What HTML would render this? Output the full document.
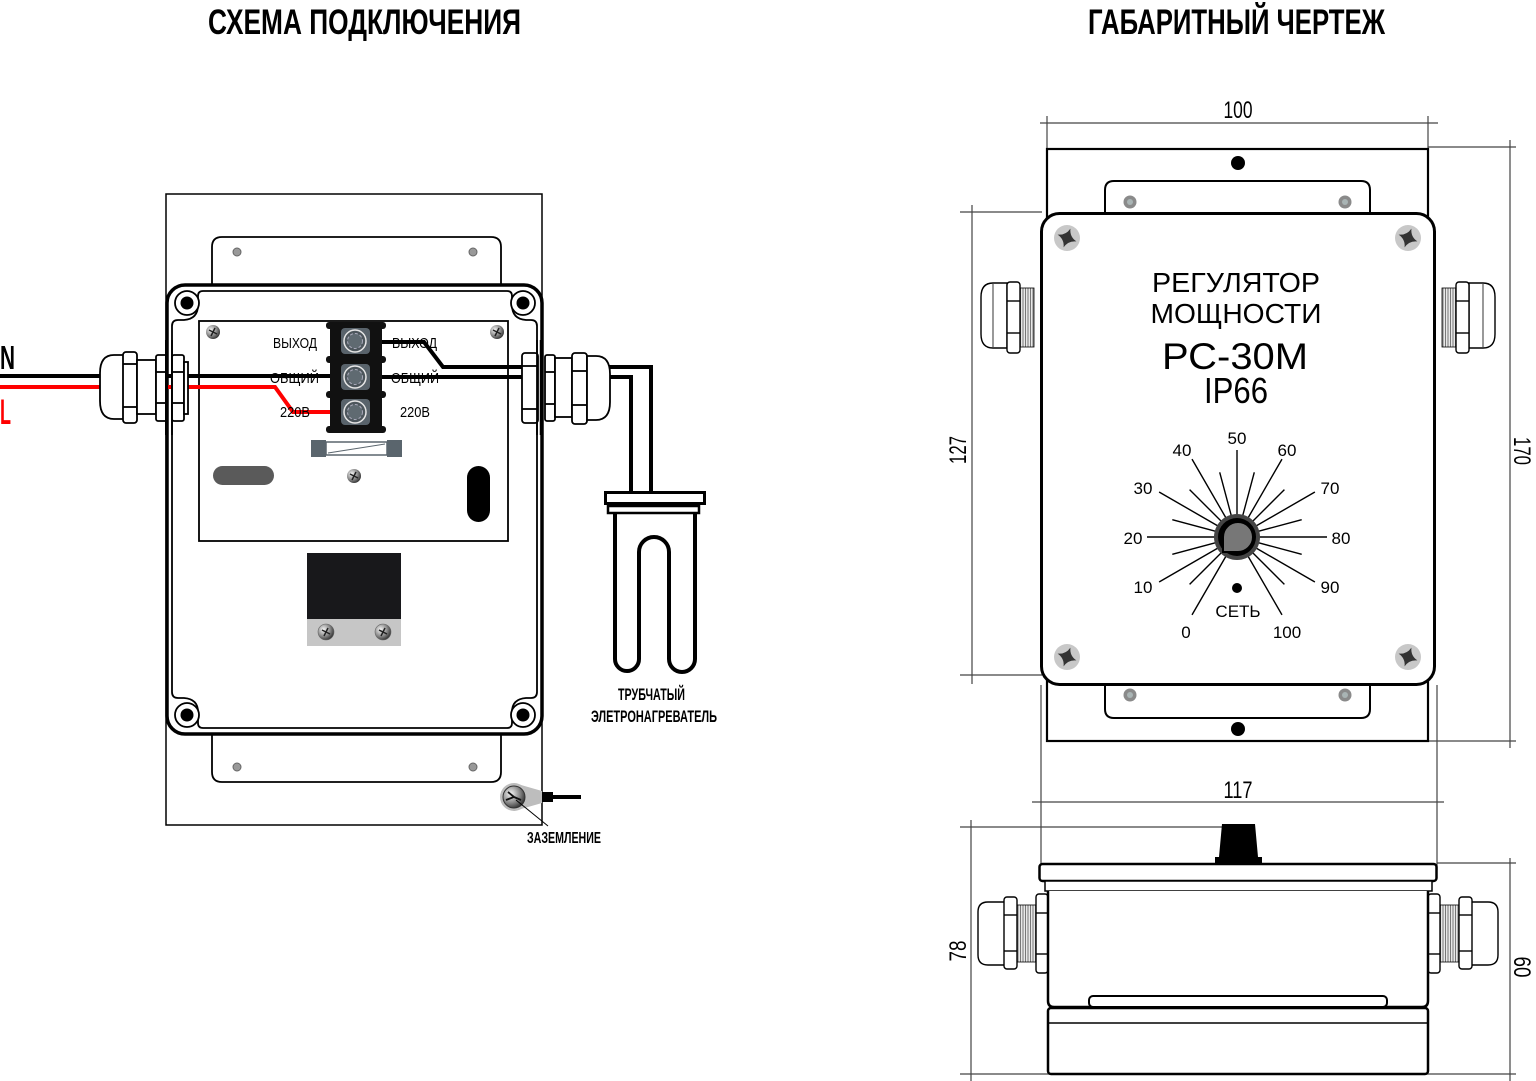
<!DOCTYPE html>
<html><head><meta charset="utf-8"><style>
html,body{margin:0;padding:0;background:#fff;}
svg{display:block;}
</style></head><body>
<svg width="1536" height="1081" viewBox="0 0 1536 1081" xmlns="http://www.w3.org/2000/svg" font-family="'Liberation Sans', Arial, sans-serif">
<defs>
<radialGradient id="sg" cx="0.35" cy="0.35" r="0.75">
<stop offset="0" stop-color="#f6f6f6"/><stop offset="0.55" stop-color="#8a8a8a"/><stop offset="1" stop-color="#222"/>
</radialGradient>
<pattern id="thr" width="2.5" height="4" patternUnits="userSpaceOnUse">
<rect width="2.5" height="4" fill="#e8e8e8"/><rect width="1" height="4" fill="#777"/>
</pattern>
</defs>

<!-- TITLES -->
<text x="208" y="34" font-size="35" font-weight="bold" textLength="313" lengthAdjust="spacingAndGlyphs">СХЕМА ПОДКЛЮЧЕНИЯ</text>
<text x="1088" y="34" font-size="35" font-weight="bold" textLength="297" lengthAdjust="spacingAndGlyphs">ГАБАРИТНЫЙ ЧЕРТЕЖ</text>

<!-- ================= LEFT DIAGRAM ================= -->
<rect x="166" y="194" width="376" height="631" fill="#fff" stroke="#000" stroke-width="1.5"/>
<!-- tabs -->
<path d="M212,286 V247 Q212,237 222,237 H491 Q501,237 501,247 V286" fill="#fff" stroke="#000" stroke-width="1.8"/>
<path d="M212,732 V772 Q212,782 222,782 H491 Q501,782 501,772 V732" fill="#fff" stroke="#000" stroke-width="1.8"/>
<g fill="#999" stroke="#666" stroke-width="1">
<circle cx="237" cy="252" r="4"/><circle cx="473" cy="252" r="4"/>
<circle cx="237" cy="767" r="4"/><circle cx="473" cy="767" r="4"/>
</g>
<!-- box -->
<rect x="167" y="285" width="375" height="449" rx="18" fill="#fff" stroke="#000" stroke-width="3.5"/>
<path d="M203,291 H507 Q512,291 512,296 V305 Q512,319 526,320 H531 Q537,320 537,326 V692 Q537,698 531,698 H526 Q512,699 512,712 V723 Q512,728 507,728 H203 Q198,728 198,723 V712 Q198,699 184,698 H178 Q172,698 172,692 V326 Q172,320 178,320 H184 Q198,319 198,305 V296 Q198,291 203,291 Z" fill="none" stroke="#000" stroke-width="1.8"/>
<!-- corner screws -->
<g>
<circle cx="187" cy="303" r="12" fill="#fff" stroke="#000" stroke-width="1.8"/><circle cx="187" cy="303" r="6.5" fill="#000"/>
<circle cx="523" cy="303" r="12" fill="#fff" stroke="#000" stroke-width="1.8"/><circle cx="523" cy="303" r="6.5" fill="#000"/>
<circle cx="187" cy="715" r="12" fill="#fff" stroke="#000" stroke-width="1.8"/><circle cx="187" cy="715" r="6.5" fill="#000"/>
<circle cx="523" cy="715" r="12" fill="#fff" stroke="#000" stroke-width="1.8"/><circle cx="523" cy="715" r="6.5" fill="#000"/>
</g>
<!-- inner panel -->
<rect x="199" y="321" width="309" height="220" fill="#fff" stroke="#000" stroke-width="1.8"/>

<!-- wires -->
<g fill="none" stroke-width="4" stroke-linejoin="miter">
<path d="M0,376 H330" stroke="#000"/>
<path d="M0,387 H275 L293,412 H332" stroke="#f00"/>
<path d="M380,342 H424 L443,367 H525" stroke="#000"/>
<path d="M380,377 H525" stroke="#000"/>
<path d="M608,367 H651 V492" stroke="#000"/>
<path d="M608,377 H631 V492" stroke="#000"/>
</g>

<!-- terminal block -->
<g>
<rect x="330" y="322" width="52" height="111" fill="#111"/>
<rect x="326" y="322" width="60" height="7" rx="3" fill="#111"/>
<rect x="326" y="356" width="60" height="7" rx="3" fill="#111"/>
<rect x="326" y="391" width="60" height="7" rx="3" fill="#111"/>
<rect x="326" y="426" width="60" height="7" rx="3" fill="#111"/>
<g transform="translate(355,341)"><rect x="-14" y="-13" width="29" height="26" rx="4" fill="#59636b"/><circle r="11" fill="#4d565c" stroke="#e6e6e6" stroke-width="1.5"/><circle r="7.5" fill="#5f6a71" stroke="#aab" stroke-width="1" stroke-dasharray="3 2"/></g>
<g transform="translate(355,377)"><rect x="-14" y="-13" width="29" height="26" rx="4" fill="#59636b"/><circle r="11" fill="#4d565c" stroke="#e6e6e6" stroke-width="1.5"/><circle r="7.5" fill="#5f6a71" stroke="#aab" stroke-width="1" stroke-dasharray="3 2"/></g>
<g transform="translate(355,412)"><rect x="-14" y="-13" width="29" height="26" rx="4" fill="#59636b"/><circle r="11" fill="#4d565c" stroke="#e6e6e6" stroke-width="1.5"/><circle r="7.5" fill="#5f6a71" stroke="#aab" stroke-width="1" stroke-dasharray="3 2"/></g>
</g>
<!-- fuse -->
<g>
<rect x="326" y="442" width="61" height="13" fill="#fff" stroke="#5a656d" stroke-width="1.5"/>
<line x1="328" y1="453" x2="385" y2="444" stroke="#5a656d" stroke-width="1"/>
<rect x="311" y="440" width="15" height="17" fill="#5a656d"/>
<rect x="387" y="440" width="15" height="17" fill="#5a656d"/>
</g>
<rect x="213" y="466" width="61" height="19" rx="9.5" fill="#5a5a5a"/>
<rect x="467" y="466" width="23" height="56" rx="11.5" fill="#000"/>
<!-- panel screws -->
<g transform="translate(213,332)"><circle r="7" fill="url(#sg)"/><path d="M-4,-2 L4,2 M-2,4 L2,-4" stroke="#222" stroke-width="1.5"/></g>
<g transform="translate(497,332)"><circle r="7" fill="url(#sg)"/><path d="M-4,-2 L4,2 M-2,4 L2,-4" stroke="#222" stroke-width="1.5"/></g>
<g transform="translate(354,476)"><circle r="7" fill="url(#sg)"/><path d="M-4,-2 L4,2 M-2,4 L2,-4" stroke="#222" stroke-width="1.5"/></g>
<!-- black module -->
<rect x="307" y="553" width="94" height="66" fill="#18181b"/>
<rect x="307" y="619" width="94" height="27" fill="#c6c6c6"/>
<g transform="translate(326,632)"><circle r="8" fill="url(#sg)" stroke="#666" stroke-width="0.6"/><path d="M-4,-2 L4,2 M-2,4 L2,-4" stroke="#222" stroke-width="1.5"/></g>
<g transform="translate(383,632)"><circle r="8" fill="url(#sg)" stroke="#666" stroke-width="0.6"/><path d="M-4,-2 L4,2 M-2,4 L2,-4" stroke="#222" stroke-width="1.5"/></g>

<!-- terminal labels -->
<g font-size="15" fill="#000">
<text x="273" y="348" textLength="44" lengthAdjust="spacingAndGlyphs">ВЫХОД</text>
<text x="270" y="383" textLength="49" lengthAdjust="spacingAndGlyphs">ОБЩИЙ</text>
<text x="280" y="417" textLength="30" lengthAdjust="spacingAndGlyphs">220В</text>
<text x="392" y="348" textLength="45" lengthAdjust="spacingAndGlyphs">ВЫХОД</text>
<text x="391" y="383" textLength="48" lengthAdjust="spacingAndGlyphs">ОБЩИЙ</text>
<text x="400" y="417" textLength="30" lengthAdjust="spacingAndGlyphs">220В</text>
</g>

<!-- left gland -->
<g fill="#fff" stroke="#000" stroke-width="1.8">
<path d="M126,355 H114 Q100,355 100,373 V401 Q100,419 114,419 H126 Z"/>
<rect x="123" y="352" width="14" height="71" rx="3"/>
<line x1="123" y1="364" x2="137" y2="364"/><line x1="123" y1="407" x2="137" y2="407"/>
<rect x="137" y="360" width="19" height="54"/>
<rect x="156" y="355" width="11" height="66" rx="2"/>
<line x1="156" y1="372" x2="167" y2="372"/><line x1="156" y1="403" x2="167" y2="403"/>
<rect x="172" y="355" width="12" height="66" rx="2"/>
<line x1="172" y1="372" x2="184" y2="372"/><line x1="172" y1="403" x2="184" y2="403"/>
<rect x="184" y="362" width="4" height="52"/>
</g>
<line x1="166.5" y1="340" x2="166.5" y2="435" stroke="#000" stroke-width="3"/>
<line x1="172" y1="340" x2="172" y2="435" stroke="#000" stroke-width="1.8"/>

<!-- right gland -->
<g fill="#fff" stroke="#000" stroke-width="1.8">
<rect x="522" y="353" width="16" height="70" rx="3"/>
<line x1="522" y1="366" x2="538" y2="366"/><line x1="522" y1="409" x2="538" y2="409"/>
<rect x="545" y="355" width="10" height="66" rx="2"/>
<line x1="545" y1="372" x2="555" y2="372"/><line x1="545" y1="404" x2="555" y2="404"/>
<rect x="555" y="358" width="17" height="59"/>
<rect x="572" y="353" width="15" height="71" rx="3"/>
<line x1="572" y1="371" x2="587" y2="371"/><line x1="572" y1="405" x2="587" y2="405"/>
<path d="M587,356 H596 Q610,356 610,374 V402 Q610,420 596,420 H587 Z"/>
</g>
<line x1="537" y1="340" x2="537" y2="435" stroke="#000" stroke-width="1.8"/>
<line x1="541.5" y1="340" x2="541.5" y2="435" stroke="#000" stroke-width="3.5"/>

<!-- heater -->
<rect x="605.5" y="492.5" width="99" height="11" fill="#fff" stroke="#000" stroke-width="3"/>
<rect x="608" y="506" width="91" height="7" fill="#fff" stroke="#000" stroke-width="2.5"/>
<path d="M615,514 V659 A12,12 0 0 0 639,659 V552 A15,15 0 0 1 669,552 V659 A13,13 0 0 0 695,659 V514" fill="none" stroke="#000" stroke-width="4"/>
<text x="618" y="700" font-size="17" font-weight="bold" textLength="67" lengthAdjust="spacingAndGlyphs">ТРУБЧАТЫЙ</text>
<text x="591" y="722" font-size="17" font-weight="bold" textLength="126" lengthAdjust="spacingAndGlyphs">ЭЛЕТРОНАГРЕВАТЕЛЬ</text>

<!-- ground -->
<path d="M514,783 L542,791 V803 L514,811 Z" fill="#bdbdbd"/>
<circle cx="514" cy="797" r="14" fill="#bdbdbd"/>
<circle cx="514" cy="797" r="11" fill="url(#sg)" stroke="#333" stroke-width="1"/>
<path d="M508,792 L514,797 L506,800 M514,797 L521,800" stroke="#111" stroke-width="1.8" fill="none"/>
<rect x="542" y="792" width="11" height="10" fill="#000"/>
<line x1="553" y1="797" x2="581" y2="797" stroke="#000" stroke-width="4"/>
<line x1="516" y1="800" x2="548" y2="826" stroke="#000" stroke-width="1"/>
<text x="527" y="843" font-size="16" font-weight="bold" textLength="74" lengthAdjust="spacingAndGlyphs">ЗАЗЕМЛЕНИЕ</text>

<!-- N / L -->
<text x="0" y="369" font-size="33" font-weight="bold" textLength="15" lengthAdjust="spacingAndGlyphs">N</text>
<text x="0" y="424" font-size="35" font-weight="bold" fill="#f00" textLength="11" lengthAdjust="spacingAndGlyphs">L</text>

<!-- ================= RIGHT DIAGRAM ================= -->
<!-- dimension lines -->
<g stroke="#444" stroke-width="1.2" fill="none">
<line x1="1040" y1="123" x2="1438" y2="123"/>
<line x1="1047" y1="116" x2="1047" y2="150"/>
<line x1="1428" y1="116" x2="1428" y2="150"/>
<line x1="972" y1="205" x2="972" y2="684"/>
<line x1="960" y1="212" x2="1042" y2="212"/>
<line x1="960" y1="675" x2="1042" y2="675"/>
<line x1="1510" y1="140" x2="1510" y2="748"/>
<line x1="1428" y1="147" x2="1516" y2="147"/>
<line x1="1428" y1="741" x2="1516" y2="741"/>
<line x1="1032" y1="802" x2="1444" y2="802"/>
<line x1="1041" y1="685" x2="1041" y2="870"/>
<line x1="1437" y1="685" x2="1437" y2="870"/>
<line x1="971" y1="820" x2="971" y2="1081"/>
<line x1="960" y1="827" x2="1222" y2="827"/>
<line x1="1510" y1="858" x2="1510" y2="1081"/>
<line x1="1437" y1="863" x2="1516" y2="863"/>
<line x1="960" y1="1074" x2="1516" y2="1074"/>
</g>
<g font-size="24" fill="#000">
<text x="1238" y="118" text-anchor="middle" textLength="29" lengthAdjust="spacingAndGlyphs">100</text>
<text x="1238" y="798" text-anchor="middle" textLength="29" lengthAdjust="spacingAndGlyphs">117</text>
<text transform="translate(966,450) rotate(-90)" text-anchor="middle" textLength="28" lengthAdjust="spacingAndGlyphs">127</text>
<text transform="translate(1514,451) rotate(90)" text-anchor="middle" textLength="28" lengthAdjust="spacingAndGlyphs">170</text>
<text transform="translate(966,951) rotate(-90)" text-anchor="middle" textLength="21" lengthAdjust="spacingAndGlyphs">78</text>
<text transform="translate(1514,967) rotate(90)" text-anchor="middle" textLength="21" lengthAdjust="spacingAndGlyphs">60</text>
</g>

<!-- top view: base plate -->
<rect x="1047" y="149" width="381" height="592" fill="#fff" stroke="#000" stroke-width="2.2"/>
<circle cx="1238" cy="163" r="7" fill="#000"/>
<circle cx="1238" cy="729" r="7" fill="#000"/>
<path d="M1105,214 V190 Q1105,181 1114,181 H1361 Q1370,181 1370,190 V214" fill="#fff" stroke="#000" stroke-width="2"/>
<path d="M1105,684 V709 Q1105,718 1114,718 H1361 Q1370,718 1370,709 V684" fill="#fff" stroke="#000" stroke-width="2"/>
<g>
<circle cx="1130" cy="202" r="6.5" fill="#8a8a8a"/><circle cx="1130" cy="202" r="3" fill="#a9b4b4"/>
<circle cx="1345" cy="202" r="6.5" fill="#8a8a8a"/><circle cx="1345" cy="202" r="3" fill="#a9b4b4"/>
<circle cx="1130" cy="695" r="6.5" fill="#8a8a8a"/><circle cx="1130" cy="695" r="3" fill="#a9b4b4"/>
<circle cx="1345" cy="695" r="6.5" fill="#8a8a8a"/><circle cx="1345" cy="695" r="3" fill="#a9b4b4"/>
</g>

<!-- top view glands -->
<g fill="#fff" stroke="#000" stroke-width="1.4">
<path d="M1007,283 H993 Q981,283 981,297 V334 Q981,348 993,348 H1007 Z"/>
<line x1="993" y1="284" x2="993" y2="347" stroke-width="0.8"/>
<rect x="1020" y="288" width="14" height="59" fill="url(#thr)" stroke-width="0.8"/>
<rect x="1007" y="282" width="13" height="71" rx="3"/>
<line x1="1007" y1="301" x2="1020" y2="301"/><line x1="1007" y1="333" x2="1020" y2="333"/>
<path d="M1469,283 H1483 Q1495,283 1495,297 V334 Q1495,348 1483,348 H1469 Z"/>
<line x1="1483" y1="284" x2="1483" y2="347" stroke-width="0.8"/>
<rect x="1442" y="288" width="14" height="59" fill="url(#thr)" stroke-width="0.8"/>
<rect x="1456" y="282" width="13" height="71" rx="3"/>
<line x1="1456" y1="301" x2="1469" y2="301"/><line x1="1456" y1="333" x2="1469" y2="333"/>
</g>

<!-- main body -->
<rect x="1041.5" y="213.5" width="393" height="471" rx="18" fill="#fff" stroke="#000" stroke-width="3"/>
<g>
<g transform="translate(1067,238)"><circle r="13" fill="#c8c8c8"/><path d="M0,-10 Q2,-2 10,0 Q2,2 0,10 Q-2,2 -10,0 Q-2,-2 0,-10Z" fill="#333" transform="rotate(20)"/></g>
<g transform="translate(1408,238)"><circle r="13" fill="#c8c8c8"/><path d="M0,-10 Q2,-2 10,0 Q2,2 0,10 Q-2,2 -10,0 Q-2,-2 0,-10Z" fill="#333" transform="rotate(20)"/></g>
<g transform="translate(1067,657)"><circle r="13" fill="#c8c8c8"/><path d="M0,-10 Q2,-2 10,0 Q2,2 0,10 Q-2,2 -10,0 Q-2,-2 0,-10Z" fill="#333" transform="rotate(20)"/></g>
<g transform="translate(1408,657)"><circle r="13" fill="#c8c8c8"/><path d="M0,-10 Q2,-2 10,0 Q2,2 0,10 Q-2,2 -10,0 Q-2,-2 0,-10Z" fill="#333" transform="rotate(20)"/></g>
</g>

<text x="1236" y="292" font-size="28" text-anchor="middle" textLength="168" lengthAdjust="spacingAndGlyphs">РЕГУЛЯТОР</text>
<text x="1236" y="323" font-size="28" text-anchor="middle" textLength="171" lengthAdjust="spacingAndGlyphs">МОЩНОСТИ</text>
<text x="1235" y="369" font-size="37" text-anchor="middle" textLength="146" lengthAdjust="spacingAndGlyphs">РС-30М</text>
<text x="1236" y="403" font-size="36" text-anchor="middle" textLength="64" lengthAdjust="spacingAndGlyphs">IP66</text>

<!-- dial ticks -->
<g stroke="#000" stroke-width="1.4">
<line x1="1226" y1="556.1" x2="1192" y2="614.9"/>
<line x1="1221.4" y1="552.6" x2="1189.6" y2="584.4"/>
<line x1="1218" y1="548" x2="1159.1" y2="582"/>
<line x1="1215.7" y1="542.7" x2="1172.3" y2="554.3"/>
<line x1="1215" y1="537" x2="1147" y2="537"/>
<line x1="1215.7" y1="531.3" x2="1172.3" y2="519.7"/>
<line x1="1218" y1="526" x2="1159.1" y2="492"/>
<line x1="1221.4" y1="521.4" x2="1189.6" y2="489.6"/>
<line x1="1226" y1="518" x2="1192" y2="459.1"/>
<line x1="1231.3" y1="515.7" x2="1219.7" y2="472.3"/>
<line x1="1237" y1="515" x2="1237" y2="450"/>
<line x1="1242.7" y1="515.7" x2="1254.3" y2="472.3"/>
<line x1="1248" y1="518" x2="1282" y2="459.1"/>
<line x1="1252.6" y1="521.4" x2="1284.4" y2="489.6"/>
<line x1="1256" y1="526" x2="1314.9" y2="492"/>
<line x1="1258.3" y1="531.3" x2="1301.7" y2="519.7"/>
<line x1="1259" y1="537" x2="1327" y2="537"/>
<line x1="1258.3" y1="542.7" x2="1301.7" y2="554.3"/>
<line x1="1256" y1="548" x2="1314.9" y2="582"/>
<line x1="1252.6" y1="552.6" x2="1284.4" y2="584.4"/>
<line x1="1248" y1="556.1" x2="1282" y2="614.9"/>
</g>
<!-- knob -->
<circle cx="1237" cy="537" r="23" fill="#444"/>
<circle cx="1237" cy="537" r="19" fill="#000"/>
<path d="M1223,552 L1223,537 A15,15 0 1 1 1238,552 Z" fill="#777" stroke="#000" stroke-width="2"/>
<circle cx="1237" cy="588" r="5" fill="#000"/>
<g font-size="17" text-anchor="middle" fill="#000">
<text x="1186" y="638">0</text>
<text x="1143" y="593">10</text>
<text x="1133" y="544">20</text>
<text x="1143" y="494">30</text>
<text x="1182" y="456">40</text>
<text x="1237" y="444">50</text>
<text x="1287" y="456">60</text>
<text x="1330" y="494">70</text>
<text x="1341" y="544">80</text>
<text x="1330" y="593">90</text>
<text x="1287" y="638">100</text>
<text x="1238" y="617">СЕТЬ</text>
</g>

<!-- ================= SIDE VIEW ================= -->
<path d="M1222,824 H1255 L1258,857 H1262 V864 H1215 V857 H1219 Z" fill="#000"/>
<!-- side glands -->
<g fill="#fff" stroke="#000" stroke-width="1.4">
<path d="M1006,902 H988 Q978,902 978,912 V955 Q978,965 988,965 H1006 Z"/>
<rect x="1017" y="905" width="19" height="57" fill="url(#thr)" stroke-width="0.8"/>
<rect x="1004" y="897" width="13" height="72" rx="3"/>
<line x1="1004" y1="915" x2="1017" y2="915"/><line x1="1004" y1="951" x2="1017" y2="951"/>
<rect x="1036" y="894" width="12" height="79" rx="3"/>
<line x1="1036" y1="913" x2="1048" y2="913"/><line x1="1036" y1="954" x2="1048" y2="954"/>
<path d="M1470,902 H1488 Q1498,902 1498,912 V955 Q1498,965 1488,965 H1470 Z"/>
<rect x="1440" y="905" width="19" height="57" fill="url(#thr)" stroke-width="0.8"/>
<rect x="1459" y="897" width="13" height="72" rx="3"/>
<line x1="1459" y1="915" x2="1472" y2="915"/><line x1="1459" y1="951" x2="1472" y2="951"/>
<rect x="1428" y="894" width="12" height="79" rx="3"/>
<line x1="1428" y1="913" x2="1440" y2="913"/><line x1="1428" y1="954" x2="1440" y2="954"/>
</g>
<rect x="1039.5" y="864" width="397" height="17" rx="3" fill="#fff" stroke="#000" stroke-width="2.5"/>
<rect x="1045" y="881" width="387" height="10" fill="#fff" stroke="#000" stroke-width="1.5"/>
<path d="M1048,891 V1001 Q1048,1007 1054,1007 H1422 Q1428,1007 1428,1001 V891" fill="#fff" stroke="#000" stroke-width="2.5"/>
<rect x="1089" y="996" width="298" height="11" rx="4" fill="#fff" stroke="#000" stroke-width="2"/>
<rect x="1048" y="1008" width="380" height="66" rx="3" fill="#fff" stroke="#000" stroke-width="2.5"/>
<line x1="1048" y1="1023" x2="1428" y2="1023" stroke="#000" stroke-width="1.5"/>

</svg>
</body></html>
